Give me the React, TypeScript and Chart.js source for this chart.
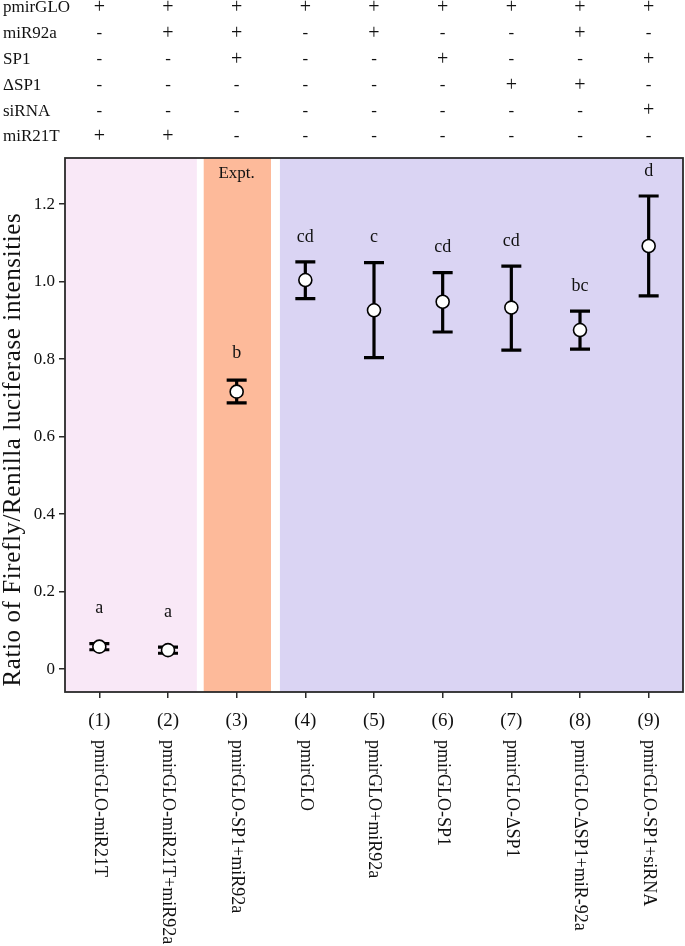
import React, { useEffect, useRef } from 'react';
import { Chart, registerables } from 'chart.js';

Chart.register(...registerables);

const categories = ['(1)', '(2)', '(3)', '(4)', '(5)', '(6)', '(7)', '(8)', '(9)'];
const sampleNames = [
  'pmirGLO-miR21T',
  'pmirGLO-miR21T+miR92a',
  'pmirGLO-SP1+miR92a',
  'pmirGLO',
  'pmirGLO+miR92a',
  'pmirGLO-SP1',
  'pmirGLO-ΔSP1',
  'pmirGLO-ΔSP1+miR-92a',
  'pmirGLO-SP1+siRNA',
];
const means = [0.058, 0.049, 0.716, 1.004, 0.926, 0.948, 0.933, 0.875, 1.092];
const lows = [0.05, 0.041, 0.687, 0.956, 0.804, 0.87, 0.823, 0.826, 0.963];
const highs = [0.066, 0.057, 0.746, 1.051, 1.049, 1.023, 1.04, 0.924, 1.221];
const letters = ['a', 'a', 'b', 'cd', 'c', 'cd', 'cd', 'bc', 'd'];
const yTicks = [0, 0.2, 0.4, 0.6, 0.8, 1.0, 1.2];
const rowLabels = ['pmirGLO', 'miR92a', 'SP1', 'ΔSP1', 'siRNA', 'miR21T'];
const rowPmirGLO = ['+', '+', '+', '+', '+', '+', '+', '+', '+'];
const rowMiR92a = ['-', '+', '+', '-', '+', '-', '-', '+', '-'];
const rowSP1 = ['-', '-', '+', '-', '-', '+', '-', '-', '+'];
const rowDeltaSP1 = ['-', '-', '-', '-', '-', '-', '+', '+', '-'];
const rowSiRNA = ['-', '-', '-', '-', '-', '-', '-', '-', '+'];
const rowMiR21T = ['+', '+', '-', '-', '-', '-', '-', '-', '-'];
const exptLabel = 'Expt.';
const yTitle = 'Ratio of Firefly/Renilla luciferase intensities';

const FONT = '"Liberation Serif", "DejaVu Serif", serif';

const decorPlugin = {
  id: 'decor',
  beforeDraw(chart: any) {
    const { ctx, chartArea: a, scales } = chart;
    const x = scales.x;
    const px = (v: number) => x.getPixelForValue(v);
    ctx.save();
    ctx.fillStyle = '#ffffff';
    ctx.fillRect(0, 0, chart.width, chart.height);
    ctx.fillStyle = '#f9e8f7';
    ctx.fillRect(a.left, a.top, px(1.42) - a.left, a.bottom - a.top);
    ctx.fillStyle = '#fdba9a';
    ctx.fillRect(px(1.52), a.top, px(2.5) - px(1.52), a.bottom - a.top);
    ctx.fillStyle = '#dad4f3';
    ctx.fillRect(px(2.63), a.top, a.right - px(2.63), a.bottom - a.top);
    ctx.restore();
  },
  beforeDatasetsDraw(chart: any) {
    const { ctx, scales } = chart;
    const x = scales.x;
    const y = scales.y;
    ctx.save();
    ctx.strokeStyle = '#000';
    ctx.lineWidth = 3.2;
    ctx.lineCap = 'butt';
    for (let i = 0; i < means.length; i++) {
      const cx = x.getPixelForValue(i);
      const yl = y.getPixelForValue(lows[i]);
      const yh = y.getPixelForValue(highs[i]);
      ctx.beginPath();
      ctx.moveTo(cx, yl);
      ctx.lineTo(cx, yh);
      ctx.moveTo(cx - 10, yl);
      ctx.lineTo(cx + 10, yl);
      ctx.moveTo(cx - 10, yh);
      ctx.lineTo(cx + 10, yh);
      ctx.stroke();
    }
    ctx.fillStyle = '#111';
    ctx.font = `18px ${FONT}`;
    ctx.textAlign = 'center';
    ctx.textBaseline = 'middle';
    for (let i = 0; i < letters.length; i++) {
      const cx = x.getPixelForValue(i);
      const yh = y.getPixelForValue(highs[i]);
      const ym = y.getPixelForValue(means[i]);
      ctx.fillText(letters[i], cx, Math.min(yh - 25, ym - 38));
    }
    ctx.font = `17px ${FONT}`;
    ctx.fillText(exptLabel, x.getPixelForValue(2), chart.chartArea.top + 16);
    ctx.restore();
  },
  afterDraw(chart: any) {
    const { ctx, chartArea: a, scales } = chart;
    const x = scales.x;
    const y = scales.y;
    ctx.save();
    ctx.strokeStyle = '#2a2a2a';
    ctx.lineWidth = 1.8;
    ctx.strokeRect(a.left, a.top, a.right - a.left, a.bottom - a.top);

    // y-axis title
    ctx.fillStyle = '#111';
    ctx.font = `25px ${FONT}`;
    (ctx as any).letterSpacing = '0.6px';
    ctx.textAlign = 'center';
    ctx.textBaseline = 'middle';
    ctx.save();
    ctx.translate(13, (y.getPixelForValue(0) + y.getPixelForValue(1.2)) / 2 + 13);
    ctx.rotate(-Math.PI / 2);
    ctx.fillText(yTitle, 0, 0);
    ctx.restore();
    (ctx as any).letterSpacing = '0px';

    // condition table
    const rows = [rowPmirGLO, rowMiR92a, rowSP1, rowDeltaSP1, rowSiRNA, rowMiR21T];
    ctx.textBaseline = 'middle';
    for (let r = 0; r < rows.length; r++) {
      const ry = 8 + r * 25.8;
      ctx.font = `17px ${FONT}`;
      ctx.textAlign = 'left';
      ctx.fillText(rowLabels[r], 3, ry);
      ctx.textAlign = 'center';
      for (let i = 0; i < rows[r].length; i++) {
        const s = rows[r][i];
        ctx.font = s === '+' ? `20px ${FONT}` : `17px ${FONT}`;
        ctx.fillText(s, x.getPixelForValue(i), ry);
      }
    }

    // rotated sample names
    ctx.font = `18px ${FONT}`;
    ctx.textAlign = 'left';
    ctx.textBaseline = 'middle';
    for (let i = 0; i < sampleNames.length; i++) {
      ctx.save();
      ctx.translate(x.getPixelForValue(i), 740);
      ctx.rotate(Math.PI / 2);
      ctx.fillText(sampleNames[i], 0, 0);
      ctx.restore();
    }
    ctx.restore();
  },
};

export default function App() {
  const ref = useRef<HTMLCanvasElement>(null);
  useEffect(() => {
    document.body.style.margin = '0';
    document.body.style.overflow = 'hidden';
    const canvas = ref.current;
    if (!canvas) return;
    const chart = new Chart(canvas, {
      type: 'line',
      data: {
        labels: categories,
        datasets: [
          {
            data: means,
            showLine: false,
            pointRadius: 6.5,
            pointHoverRadius: 6.5,
            pointBackgroundColor: '#ffffff',
            pointBorderColor: '#000000',
            pointBorderWidth: 1.6,
          },
        ],
      },
      options: {
        responsive: false,
        animation: false,
        events: [],
        layout: { autoPadding: false, padding: { top: 158, right: 2, left: 0, bottom: 0 } },
        plugins: { legend: { display: false }, tooltip: { enabled: false } },
        scales: {
          x: {
            type: 'category',
            offset: true,
            grid: {
              offset: false,
              drawOnChartArea: false,
              drawTicks: true,
              tickLength: 6,
              color: '#2a2a2a',
              lineWidth: 1.5,
            },
            border: { display: false },
            ticks: {
              color: '#111',
              font: { family: FONT, size: 19 },
              padding: 12,
              maxRotation: 0,
              autoSkip: false,
            },
            afterFit(scale: any) {
              scale.height = 254;
              scale.paddingLeft = 0;
              scale.paddingRight = 0;
            },
          },
          y: {
            type: 'linear',
            min: -0.059,
            max: 1.319,
            afterBuildTicks(scale: any) {
              scale.ticks = yTicks.map((v) => ({ value: v }));
            },
            grid: {
              drawOnChartArea: false,
              drawTicks: true,
              tickLength: 6,
              color: '#2a2a2a',
              lineWidth: 1.5,
            },
            border: { display: false },
            ticks: {
              color: '#111',
              font: { family: FONT, size: 17 },
              padding: 4,
              callback: (v: any) => (Number(v) === 0 ? '0' : Number(v).toFixed(1)),
            },
            afterFit(scale: any) {
              scale.width = 65;
            },
          },
        },
      },
      plugins: [decorPlugin],
    });
    return () => chart.destroy();
  }, []);
  return (
    <div style={{ width: 685, height: 946, position: 'relative', overflow: 'hidden' }}>
      <canvas ref={ref} width={685} height={946} style={{ display: 'block' }} />
    </div>
  );
}
